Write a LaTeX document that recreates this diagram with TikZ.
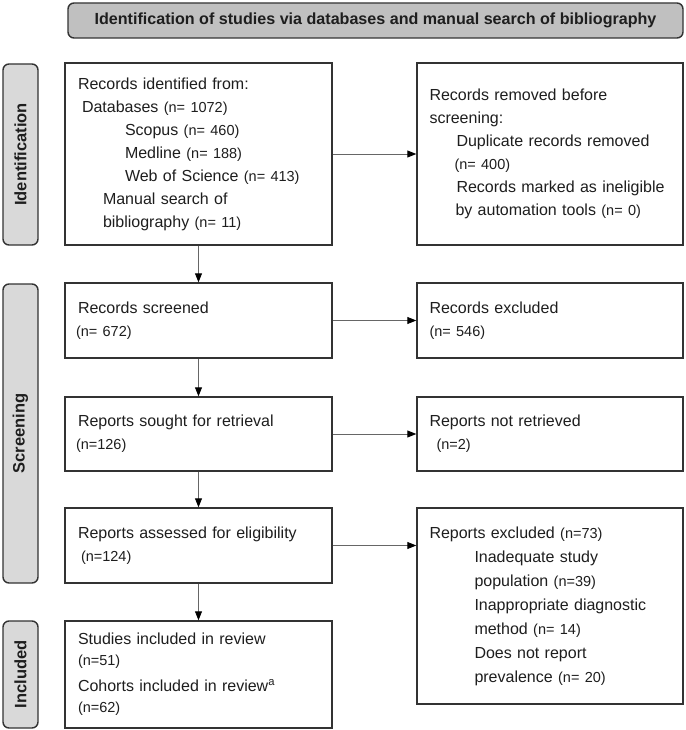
\documentclass[tikz,border=0pt]{standalone}
\usepackage{fontspec}
\setmainfont{Liberation Sans}
\usetikzlibrary{arrows.meta}
\definecolor{hdrfill}{HTML}{C0C0C0}
\definecolor{sidefill}{HTML}{D9D9D9}
\definecolor{edge}{HTML}{333333}
\definecolor{conncol}{HTML}{666666}
\definecolor{txt}{HTML}{1E1E1E}
\newcommand{\nn}[1]{{\fontsize{14.5}{20}\selectfont #1}}
\begin{document}
\begin{tikzpicture}[x=1pt,y=-1pt,
  box/.style={draw=edge, line width=1.4pt, minimum width=267pt, text width=241pt,
    align=left, inner sep=0pt, font=\fontsize{16}{23}\selectfont, text=txt},
  sidelab/.style={draw=edge, line width=1.4pt, fill=sidefill, rounded corners=6pt,
    rotate=90, minimum height=35pt, inner sep=0pt, font=\bfseries\fontsize{16.5}{19}\selectfont, text=txt},
  hdr/.style={draw=edge, line width=1.4pt, fill=hdrfill, rounded corners=6pt,
    minimum width=615pt, minimum height=35pt, inner sep=0pt, font=\bfseries\fontsize{16.1}{19}\selectfont, text=txt},
  conn/.style={draw=conncol, line width=0.9pt, -{Triangle[length=9pt,width=7pt,color=black]}}
]
\path[use as bounding box, fill=white] (0,0) rectangle (685,730);

\node[hdr] (head) at (375.5,20.5) {Identification of studies via databases and manual search of bibliography};

\node[sidelab, minimum width=181pt] (sid) at (20.5,154.5) {Identification};
\node[sidelab, minimum width=299pt] (sscr) at (20.5,433.5) {Screening};
\node[sidelab, minimum width=107pt] (sinc) at (20.5,674.5) {Included};

\node[box, minimum height=182pt] (rec) at (198.5,154) {Records identified from:\\
\hspace*{4pt}Databases \nn{(n= 1072)}\\
\hspace*{47pt}Scopus \nn{(n= 460)}\\
\hspace*{47pt}Medline \nn{(n= 188)}\\
\hspace*{47pt}Web of Science \nn{(n= 413)}\\
\hspace*{25pt}Manual search of\\
\hspace*{25pt}bibliography \nn{(n= 11)}};

\node[box, minimum width=266pt, minimum height=182pt] (rem) at (550,154) {Records removed before\\
screening:\\
\hspace*{27pt}Duplicate records removed\\
\hspace*{25pt}\nn{(n= 400)}\\
\hspace*{27pt}Records marked as ineligible\\
\hspace*{26pt}by automation tools \nn{(n= 0)}};

\node[box, minimum height=75pt] (scr) at (198.5,320.5) {Records screened\\
\hspace*{-2pt}\nn{(n= 672)}};
\node[box, minimum width=266pt, minimum height=75pt] (exc) at (550,320.5) {Records excluded\\
\nn{(n= 546)}};

\node[box, minimum height=74pt] (sought) at (198.5,434) {Reports sought for retrieval\\
\hspace*{-2pt}\nn{(n=126)}};
\node[box, minimum width=266pt, minimum height=74pt] (notret) at (550,434) {Reports not retrieved\\
\hspace*{7pt}\nn{(n=2)}};

\node[box, minimum height=75pt] (assess) at (198.5,545.5) {Reports assessed for eligibility\\
\hspace*{3pt}\nn{(n=124)}};
\node[box, minimum width=266pt, minimum height=196pt, font=\fontsize{16}{24}\selectfont] (repexc) at (550,606) {Reports excluded \nn{(n=73)}\\
\hspace*{45pt}Inadequate study\\
\hspace*{45pt}population \nn{(n=39)}\\
\hspace*{45pt}Inappropriate diagnostic\\
\hspace*{45pt}method \nn{(n= 14)}\\
\hspace*{45pt}Does not report\\
\hspace*{45pt}prevalence \nn{(n= 20)}};

\node[box, minimum height=107pt, font=\fontsize{16}{21}\selectfont] (incl) at (198.5,674.5) {Studies included in review\\
\nn{(n=51)}\\[5pt]
Cohorts included in review\textsuperscript{a}\\
\nn{(n=62)}};

\draw[conn] (rec) -- (rem);
\draw[conn] (scr) -- (exc);
\draw[conn] (sought) -- (notret);
\draw[conn] (assess.east) -- (assess.east -| repexc.west);
\draw[conn] (rec) -- (scr);
\draw[conn] (scr) -- (sought);
\draw[conn] (sought) -- (assess);
\draw[conn] (assess) -- (incl);
\end{tikzpicture}
\end{document}
